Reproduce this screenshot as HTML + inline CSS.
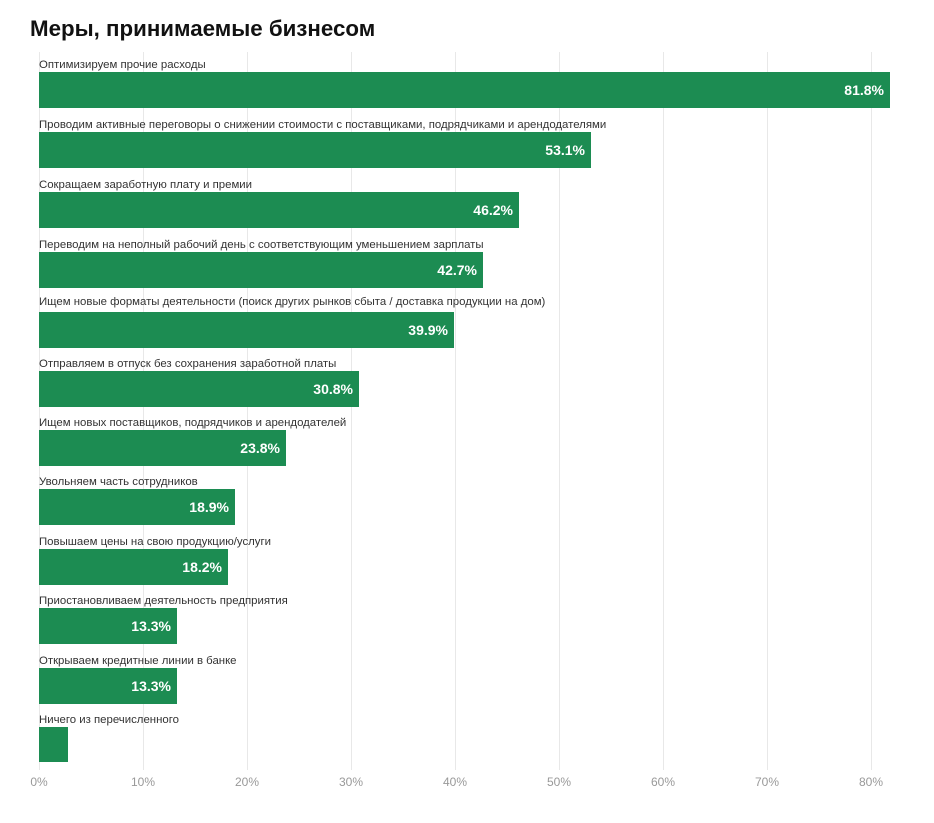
<!DOCTYPE html>
<html><head><meta charset="utf-8"><style>
body{margin:0;background:#fff;width:934px;height:818px;overflow:hidden;font-family:"Liberation Sans","DejaVu Sans",sans-serif;}
</style></head><body>
<svg width="934" height="818" xmlns="http://www.w3.org/2000/svg" font-family="Liberation Sans, DejaVu Sans, sans-serif">
<text x="30" y="36" font-size="22.3" font-weight="bold" fill="#111">Меры, принимаемые бизнесом</text>
<g stroke="#e8e8e8" stroke-width="1">
<line x1="39.5" y1="52" x2="39.5" y2="770"/><line x1="143.5" y1="52" x2="143.5" y2="770"/><line x1="247.5" y1="52" x2="247.5" y2="770"/><line x1="351.5" y1="52" x2="351.5" y2="770"/><line x1="455.5" y1="52" x2="455.5" y2="770"/><line x1="559.5" y1="52" x2="559.5" y2="770"/><line x1="663.5" y1="52" x2="663.5" y2="770"/><line x1="767.5" y1="52" x2="767.5" y2="770"/><line x1="871.5" y1="52" x2="871.5" y2="770"/>
</g>
<g font-size="12" fill="#999" text-anchor="middle">
<text x="39" y="786">0%</text><text x="143" y="786">10%</text><text x="247" y="786">20%</text><text x="351" y="786">30%</text><text x="455" y="786">40%</text><text x="559" y="786">50%</text><text x="663" y="786">60%</text><text x="767" y="786">70%</text><text x="871" y="786">80%</text>
</g>
<g fill="#1c8c52">
<rect x="39" y="72" width="851" height="36"/>
<rect x="39" y="132" width="552" height="36"/>
<rect x="39" y="192" width="480" height="36"/>
<rect x="39" y="252" width="444" height="36"/>
<rect x="39" y="312" width="415" height="36"/>
<rect x="39" y="371" width="320" height="36"/>
<rect x="39" y="430" width="247" height="36"/>
<rect x="39" y="489" width="196" height="36"/>
<rect x="39" y="549" width="189" height="36"/>
<rect x="39" y="608" width="138" height="36"/>
<rect x="39" y="668" width="138" height="36"/>
<rect x="39" y="727" width="29" height="35"/>
</g>
<g font-size="11.4" fill="#333">
<text x="39" y="68">Оптимизируем прочие расходы</text>
<text x="39" y="128">Проводим активные переговоры о снижении стоимости с поставщиками, подрядчиками и арендодателями</text>
<text x="39" y="188">Сокращаем заработную плату и премии</text>
<text x="39" y="248">Переводим на неполный рабочий день с соответствующим уменьшением зарплаты</text>
<text x="39" y="305">Ищем новые форматы деятельности (поиск других рынков сбыта / доставка продукции на дом)</text>
<text x="39" y="367">Отправляем в отпуск без сохранения заработной платы</text>
<text x="39" y="426">Ищем новых поставщиков, подрядчиков и арендодателей</text>
<text x="39" y="485">Увольняем часть сотрудников</text>
<text x="39" y="545">Повышаем цены на свою продукцию/услуги</text>
<text x="39" y="604">Приостановливаем деятельность предприятия</text>
<text x="39" y="664">Открываем кредитные линии в банке</text>
<text x="39" y="723">Ничего из перечисленного</text>
</g>
<g font-size="14" font-weight="bold" fill="#fff" text-anchor="end">
<text x="884" y="95">81.8%</text>
<text x="585" y="155">53.1%</text>
<text x="513" y="215">46.2%</text>
<text x="477" y="275">42.7%</text>
<text x="448" y="335">39.9%</text>
<text x="353" y="394">30.8%</text>
<text x="280" y="453">23.8%</text>
<text x="229" y="512">18.9%</text>
<text x="222" y="572">18.2%</text>
<text x="171" y="631">13.3%</text>
<text x="171" y="691">13.3%</text>
</g>
</svg>
</body></html>
